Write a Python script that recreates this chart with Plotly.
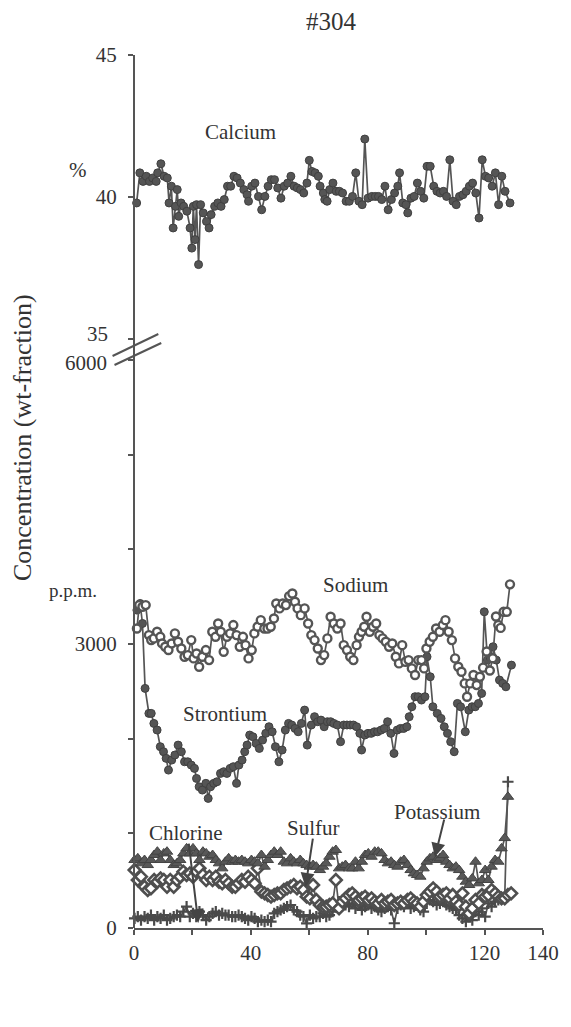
import plotly.graph_objects as go

# ---- Calcium (wt-%) ----
ca_x = [0.9, 2.0, 3.1, 4.2, 5.3, 6.4, 7.6, 8.1, 9.2, 10.3,
        11.4, 12.0, 12.8, 13.4, 14.2, 14.8, 15.3, 16.1, 17.0, 18.1,
        19.2, 19.8, 20.3, 20.9, 21.4, 22.1, 22.8, 23.7, 24.8, 25.7,
        26.4, 27.6, 28.7, 29.8, 30.9, 32.0, 33.1, 34.2, 35.3, 36.4,
        37.6, 38.7, 39.2, 40.3, 41.4, 42.6, 43.7, 44.8, 45.9, 47.0,
        48.1, 49.2, 50.3, 51.4, 52.6, 53.7, 54.8, 55.9, 57.0, 58.1,
        59.2, 60.0, 60.9, 62.0, 63.1, 63.7, 64.8, 65.3, 66.1, 67.0,
        68.1, 69.2, 70.3, 71.4, 72.6, 73.7, 74.8, 75.9, 77.0, 78.1,
        79.0, 80.1, 81.4, 82.6, 83.7, 84.8, 85.9, 87.0, 88.1, 89.2,
        90.3, 90.9, 92.0, 93.1, 93.7, 94.8, 95.9, 97.0, 98.1, 99.2,
        100.3, 101.4, 102.6, 103.7, 104.8, 105.9, 107.0, 108.1, 109.2, 110.3,
        111.4, 112.6, 113.7, 114.8, 115.9, 117.0, 118.1, 119.2, 120.3, 121.4,
        122.6, 123.7, 124.8, 125.9, 127.0, 128.7]
calcium = [39.79, 40.85, 40.55, 40.73, 40.55, 40.67, 40.55, 40.85, 41.17, 40.73,
           40.67, 39.79, 40.38, 38.91, 39.67, 40.26, 39.32, 39.79, 39.67, 39.50,
           38.91, 38.20, 39.67, 38.50, 39.73, 37.62, 39.73, 39.44, 39.14, 38.91,
           39.38, 39.67, 39.79, 39.67, 39.91, 40.38, 40.38, 40.73, 40.67, 40.49,
           40.26, 40.08, 39.85, 40.38, 40.49, 40.02, 39.55, 40.02, 40.38, 40.61,
           40.61, 40.32, 39.96, 40.38, 40.49, 40.73, 40.38, 40.32, 40.26, 40.14,
           40.49, 41.29, 40.90, 40.85, 40.73, 40.38, 40.14, 39.91, 39.85, 40.26,
           40.49, 40.20, 40.20, 40.14, 39.85, 39.85, 40.02, 40.85, 39.85, 39.73,
           42.04, 39.96, 40.02, 40.02, 40.02, 39.91, 40.38, 39.55, 39.91, 40.14,
           40.38, 40.85, 39.79, 39.73, 39.44, 39.96, 40.02, 40.49, 40.20, 39.96,
           41.08, 41.08, 40.38, 40.20, 40.14, 40.20, 40.02, 41.31, 39.85, 39.73,
           40.02, 40.08, 40.20, 40.38, 40.49, 40.14, 39.26, 41.31, 40.73, 40.67,
           40.38, 40.85, 39.73, 40.73, 40.20, 39.79]

# ---- Sodium (p.p.m.) ----
na_x = [1.0, 1.8, 2.9, 4.0, 5.1, 5.9, 6.8, 7.9, 9.0, 9.6,
        10.7, 11.8, 12.9, 14.0, 15.1, 16.2, 17.3, 18.4, 19.6, 20.4,
        21.4, 22.3, 23.4, 24.6, 25.7, 26.8, 27.9, 28.8, 29.7, 30.7,
        31.8, 32.9, 34.0, 35.1, 36.2, 37.3, 38.2, 39.2, 40.3, 41.2,
        42.3, 43.4, 44.6, 45.7, 46.8, 47.9, 48.7, 49.8, 50.9, 52.0,
        53.1, 54.2, 55.1, 56.0, 57.1, 58.4, 59.6, 60.7, 61.8, 62.9,
        64.0, 65.1, 66.2, 67.3, 68.4, 69.6, 70.7, 71.8, 72.9, 74.0,
        75.1, 76.2, 77.0, 77.9, 78.8, 79.6, 80.7, 81.8, 82.9, 84.0,
        85.1, 86.2, 87.3, 88.4, 89.6, 90.7, 91.8, 92.9, 94.0, 95.1,
        96.2, 97.3, 98.4, 99.3, 100.1, 101.2, 102.3, 103.4, 104.6, 105.7,
        106.6, 107.7, 108.8, 109.9, 111.0, 112.1, 113.2, 114.0, 115.1, 116.2,
        117.3, 118.4, 119.5, 120.7, 121.8, 122.8, 123.9, 124.7, 125.5, 126.5,
        127.6, 128.7]
sodium = [3164, 3411, 3393, 3411, 3094, 3041, 3059, 3129, 3076, 3006,
          2971, 2936, 3006, 3112, 3024, 2953, 2865, 2883, 3041, 2848,
          2900, 2760, 2865, 2936, 2830, 3129, 3076, 3217, 3129, 2918,
          3076, 3112, 3200, 3094, 2971, 3076, 2988, 2848, 2936, 3112,
          3182, 3252, 3164, 3164, 3182, 3270, 3428, 3376, 3428, 3411,
          3506, 3534, 3446, 3376, 3305, 3376, 3217, 3094, 3041, 2953,
          2830, 2883, 3059, 3288, 3217, 3164, 3217, 2988, 2936, 2865,
          2830, 2988, 3076, 3129, 3182, 3288, 3129, 3182, 3217, 3094,
          3059, 3024, 2971, 3006, 2865, 2795, 2988, 2812, 2830, 2742,
          2672, 2830, 2830, 2742, 2953, 3024, 3076, 3164, 3129, 3200,
          3252, 3129, 3041, 2848, 2760, 2707, 2584, 2443, 2584, 2672,
          2566, 2654, 2750, 2920, 2720, 2850, 3290, 3200, 3170, 3340,
          3340, 3630]

# ---- Strontium (p.p.m.) ----
sr_x = [1.0, 2.1, 2.9, 3.8, 5.1, 5.9, 6.8, 7.9, 9.0, 10.1,
        11.0, 11.8, 12.9, 14.0, 15.1, 16.2, 17.3, 18.4, 19.6, 20.7,
        21.4, 22.3, 23.4, 24.6, 25.4, 26.2, 27.3, 28.4, 29.6, 30.7,
        31.8, 32.9, 34.0, 35.1, 35.9, 37.0, 37.9, 38.7, 39.6, 40.7,
        41.8, 42.9, 44.0, 45.1, 46.2, 47.3, 48.4, 49.6, 50.7, 51.8,
        52.9, 54.0, 55.1, 56.2, 57.3, 58.4, 59.3, 60.7, 61.8, 62.9,
        64.0, 65.1, 66.2, 67.3, 68.4, 69.6, 70.7, 71.8, 72.9, 74.0,
        75.1, 76.2, 77.3, 77.9, 79.0, 80.1, 81.2, 82.3, 83.4, 84.6,
        85.7, 86.8, 87.9, 89.0, 90.1, 91.2, 92.3, 93.4, 94.2, 95.1,
        96.2, 97.3, 98.4, 99.6, 100.3, 101.4, 102.3, 103.8, 105.1, 106.2,
        107.3, 108.4, 109.6, 110.7, 111.8, 113.4, 114.6, 115.7, 116.8, 117.9,
        119.0, 119.9, 121.0, 121.8, 122.9, 124.0, 125.1, 126.2, 127.3, 129.2]
strontium = [3358, 3428, 3217, 2531, 2267, 2267, 2161, 2091, 1915, 1862,
             1792, 1668, 1774, 1827, 1932, 1862, 1756, 1756, 1721, 1686,
             1580, 1492, 1457, 1528, 1369, 1492, 1528, 1545, 1633, 1651,
             1633, 1686, 1704, 1528, 1721, 1774, 1862, 1932, 2038, 2020,
             1950, 1897, 1985, 2056, 2126, 2073, 1915, 1756, 1880, 2091,
             2161, 2144, 2108, 2073, 2161, 2302, 1932, 2144, 2232, 2179,
             2196, 2126, 2179, 2179, 2161, 2144, 1968, 2144, 2144, 2144,
             2144, 2126, 2056, 1880, 2038, 2056, 2056, 2073, 2073, 2091,
             2108, 2179, 2056, 1844, 2091, 2108, 2108, 2126, 2232, 2337,
             2443, 2443, 2408, 2443, 2865, 2654, 2337, 2267, 2214, 2126,
             2056, 1968, 1862, 2372, 2337, 2073, 2302, 2337, 2337, 2372,
             2478, 3340, 2830, 2865, 2971, 2830, 2619, 2584, 2548, 2777]

# ---- Potassium, sulfur, chlorine share one sampling grid ----
lower_x = [0.2, 1.3, 2.4, 3.6, 4.7, 5.8, 6.9, 8.0, 9.1, 10.2,
           11.3, 12.4, 13.6, 14.7, 15.8, 16.9, 18.0, 19.1, 20.2, 21.3,
           22.4, 23.6, 24.7, 25.8, 26.9, 28.0, 29.1, 30.2, 31.3, 32.4,
           33.6, 34.7, 35.8, 36.9, 38.0, 39.1, 40.2, 41.3, 42.4, 43.6,
           44.7, 45.8, 46.9, 48.0, 49.1, 50.2, 51.3, 52.4, 53.6, 54.7,
           55.8, 56.9, 58.0, 59.1, 60.2, 61.3, 62.4, 63.6, 64.7, 65.8,
           66.9, 68.0, 69.1, 70.2, 71.3, 72.4, 73.6, 74.7, 75.8, 76.9,
           78.0, 79.1, 80.2, 81.3, 82.4, 83.6, 84.7, 85.8, 86.9, 88.0,
           89.1, 90.2, 91.3, 92.4, 93.6, 94.7, 95.8, 96.9, 98.0, 99.1,
           100.2, 101.3, 102.4, 103.6, 104.7, 105.8, 106.9, 108.0, 109.1, 110.2,
           111.3, 112.4, 113.6, 114.7, 115.8, 116.9, 118.0, 119.1, 120.2, 121.3,
           122.4, 123.6, 124.7, 125.8, 126.9, 128.0, 129.1]
potassium = [718, 736, 683, 718, 665, 718, 771, 806, 718, 788,
             806, 718, 665, 683, 718, 788, 841, 788, 841, 788,
             718, 806, 788, 753, 771, 718, 683, 630, 700, 736,
             700, 718, 700, 718, 700, 683, 718, 700, 683, 771,
             648, 718, 771, 806, 771, 806, 700, 683, 736, 700,
             683, 718, 683, 665, 648, 665, 648, 612, 648, 683,
             753, 806, 824, 630, 648, 665, 630, 630, 700, 630,
             700, 771, 788, 753, 806, 806, 788, 718, 683, 700,
             665, 648, 700, 718, 665, 612, 577, 560, 542, 630,
             700, 736, 753, 718, 736, 771, 700, 665, 630, 648,
             612, 542, 489, 454, 524, 700, 472, 507, 612, 507,
             648, 718, 700, 841, 950, 1386]
sulfur = [612, 507, 542, 436, 401, 419, 507, 489, 524, 507,
          436, 507, 436, 507, 542, 595, 560, 577, 542, 595,
          630, 560, 507, 542, 507, 542, 489, 472, 507, 472,
          436, 436, 472, 507, 489, 542, 507, 472, 630, 384,
          366, 348, 331, 348, 366, 366, 401, 419, 436, 454,
          419, 436, 401, 331, 313, 454, 296, 243, 225, 225,
          243, 260, 507, 208, 278, 313, 348, 366, 331, 296,
          313, 331, 296, 313, 278, 260, 296, 260, 278, 296,
          243, 260, 278, 260, 296, 313, 278, 260, 225, 278,
          348, 384, 419, 384, 331, 348, 366, 313, 348, 278,
          243, 366, 225, 155, 208, 296, 260, 348, 331, 348,
          401, 366, 331, 313, 313, 348, 366]
chlorine = [102, 120, 84, 120, 102, 137, 84, 120, 102, 137,
            84, 102, 120, 137, 120, 172, 225, 120, 155, 120,
            172, 137, 84, 120, 155, 172, 137, 155, 137, 137,
            120, 120, 137, 120, 102, 84, 120, 102, 67, 84,
            67, 84, 67, 155, 172, 190, 208, 225, 243, 190,
            172, 137, 120, 49, 137, 102, 120, 120, 155, 120,
            137, 172, 225, 280, 260, 243, 225, 260, 208, 243,
            190, 225, 243, 208, 225, 190, 172, 208, 225, 190,
            50, 208, 243, 225, 260, 208, 225, 243, 190, 172,
            260, 296, 278, 243, 260, 278, 243, 225, 208, 190,
            137, 102, 67, 120, 84, 172, 137, 208, 120, 260,
            225, 278, 296, 313, 331, 1545]

x_ticks = [0, 20, 40, 60, 80, 100, 120, 140]
x_tick_text = ["0", "", "40", "", "80", "", "120", "140"]
ppm_ticks = [0, 1000, 2000, 3000, 4000, 5000, 6000]
ppm_tick_text = ["0", "", "", "3000", "", "", ""]
pct_ticks = [35, 40, 45]
pct_tick_text = ["", "40", "45"]

SERIF = "Liberation Serif"
INK = "#333333"
MARK = "#555555"

fig = go.Figure()


def series(x, y, axis, symbol, size, fill, edge, edge_w, line_w=1.7):
    fig.add_trace(go.Scatter(
        x=x, y=y, yaxis=axis, mode="lines+markers", cliponaxis=False,
        line=dict(color=MARK, width=line_w),
        marker=dict(symbol=symbol, size=size, color=fill,
                    line=dict(color=edge, width=edge_w)),
        hoverinfo="skip"))


series(lower_x[:len(chlorine)], chlorine, "y", "cross-thin", 8, MARK, "#4a4a4a", 2.2)
series(lower_x[:len(sulfur)], sulfur, "y", "diamond", 9, "#ffffff", "#4f4f4f", 2.6)
series(lower_x[:len(potassium)], potassium, "y", "triangle-up", 10, "#585858", "#444444", 1)
series(sr_x, strontium, "y", "circle", 8, "#555555", "#404040", 1)
series(na_x, sodium, "y", "circle", 8, "#ffffff", "#555555", 2.4)
series(ca_x, calcium, "y2", "circle", 8, "#555555", "#404040", 1)

L, R, T, B = 134, 17, 55, 99
W, H = 571, 1027
plot_h = H - T - B
low_top = (928 - 360) / plot_h
up_bot = (928 - 339) / plot_h


def px_x(px):
    return (px - L) / (W - L - R)


def px_y(py):
    return (928 - py) / plot_h


axis_font = dict(family=SERIF, size=21, color=INK)
y_common = dict(ticks="outside", ticklen=5, tickwidth=1.5, tickcolor=MARK,
                ticklabelstandoff=7, showline=False, showgrid=False,
                zeroline=False, tickfont=axis_font, anchor="x")

fig.update_layout(
    width=W, height=H,
    margin=dict(l=L, r=R, t=T, b=B),
    paper_bgcolor="white", plot_bgcolor="white",
    showlegend=False,
    xaxis=dict(range=[0, 140], tickvals=x_ticks, ticktext=x_tick_text,
               ticks="outside", ticklen=5, tickwidth=1.5, tickcolor=MARK,
               showline=True, linecolor=MARK, linewidth=2,
               showgrid=False, zeroline=False, tickfont=axis_font,
               anchor="y"),
    yaxis=dict(domain=[0, low_top], range=[0, 6000],
               tickvals=ppm_ticks, ticktext=ppm_tick_text, **y_common),
    yaxis2=dict(domain=[up_bot, 1], range=[35, 45],
                tickvals=pct_ticks, ticktext=pct_tick_text, **y_common),
)

# continuous vertical axis line and the two slanted break marks
fig.add_shape(type="line", xref="paper", yref="paper", x0=0, x1=0, y0=0, y1=1,
              line=dict(color=MARK, width=2))
fig.add_shape(type="line", xref="paper", yref="paper",
              x0=px_x(112), y0=px_y(356), x1=px_x(159), y1=px_y(334),
              line=dict(color=MARK, width=2))
fig.add_shape(type="line", xref="paper", yref="paper",
              x0=px_x(114), y0=px_y(365), x1=px_x(162), y1=px_y(343),
              line=dict(color=MARK, width=2))

# break-end tick labels, set apart on either side of the break marks
fig.add_annotation(text="35", x=px_x(109), y=px_y(334), xref="paper", yref="paper",
                   xanchor="right", yanchor="middle", showarrow=False, font=axis_font)
fig.add_annotation(text="6000", x=px_x(108), y=px_y(363), xref="paper", yref="paper",
                   xanchor="right", yanchor="middle", showarrow=False, font=axis_font)

label_font = dict(family=SERIF, size=21, color=INK)


def label(text, x, y, yref="y"):
    fig.add_annotation(text=text, x=x, y=y, xref="x", yref=yref,
                       xanchor="center", yanchor="middle",
                       showarrow=False, font=label_font)


label("Calcium", 36.3, 42.29, "y2")
label("Sodium", 75.7, 3620)
label("Strontium", 31.0, 2260)
label("Chlorine", 17.7, 1003)
label("Sulfur", 61.3, 1056)
label("Potassium", 103.7, 1225)


def pointer(x_head, y_head, x_tail, y_tail):
    fig.add_annotation(text="", x=x_head, y=y_head, ax=x_tail, ay=y_tail,
                       xref="x", yref="y", axref="x", ayref="y",
                       showarrow=True, arrowhead=2, arrowsize=1.4,
                       arrowwidth=2, arrowcolor="#444444", standoff=0)


pointer(22.0, 53, 18.7, 908)
pointer(58.7, 433, 61.3, 961)
pointer(103.0, 750, 106.3, 1162)


def page_text(text, px, py, size=21, angle=0):
    fig.add_annotation(text=text, x=px_x(px), y=px_y(py), xref="paper", yref="paper",
                       xanchor="center", yanchor="middle", textangle=angle,
                       showarrow=False, font=dict(family=SERIF, size=size, color=INK))


page_text("%", 76, 170)
page_text("p.p.m.", 71, 590, size=19)
page_text("#304", 337, 22, size=25)
page_text("Concentration (wt-fraction)", 19, 438, size=26, angle=-90)

fig.write_html("out.html")
